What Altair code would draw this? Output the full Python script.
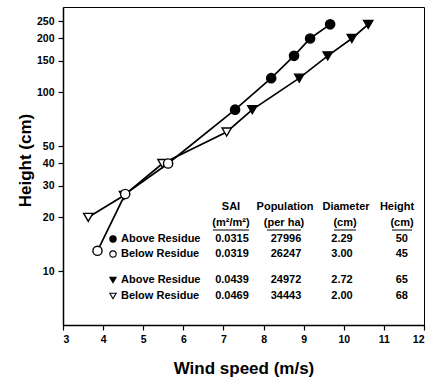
import altair as alt
import pandas as pd

# ---- data ----
circ_above_wind = [9.66, 9.16, 8.76, 8.19, 7.29]
circ_above_height = [240, 200, 160, 120, 80]
circ_below_wind = [5.62, 4.55, 3.86]
circ_below_height = [40, 27, 13]

tri_above_wind = [10.61, 10.20, 9.60, 8.89, 7.72]
tri_above_height = [240, 200, 160, 120, 80]
tri_below_wind = [7.08, 5.48, 4.52, 3.63]
tri_below_height = [60, 40, 26.5, 20]

x_ticks = [3, 4, 5, 6, 7, 8, 9, 10, 11, 12]
y_ticks = [10, 20, 30, 40, 50, 100, 150, 200, 250]

# legend table contents
tbl_names = ["Above Residue", "Below Residue", "Above Residue", "Below Residue"]
tbl_profile = ["circle", "circle", "triangle", "triangle"]
tbl_group = ["Above", "Below", "Above", "Below"]
tbl_sai = ["0.0315", "0.0319", "0.0439", "0.0469"]
tbl_pop = ["27996", "26247", "24972", "34443"]
tbl_diam = ["2.29", "3.00", "2.72", "2.00"]
tbl_height = ["50", "45", "65", "68"]
hdr_titles = ["SAI", "Population", "Diameter", "Height"]
hdr_units = ["(m\u00b2/m\u00b2)", "(per ha)", "(cm)", "(cm)"]

FONT = "Liberation Sans"

rows = []
for w, h in zip(tri_above_wind, tri_above_height):
    rows.append(dict(wind=w, height=h, profile="triangle", group="Above"))
for w, h in zip(tri_below_wind, tri_below_height):
    rows.append(dict(wind=w, height=h, profile="triangle", group="Below"))
for w, h in zip(circ_above_wind, circ_above_height):
    rows.append(dict(wind=w, height=h, profile="circle", group="Above"))
for w, h in zip(circ_below_wind, circ_below_height):
    rows.append(dict(wind=w, height=h, profile="circle", group="Below"))
df = pd.DataFrame(rows)

xs = alt.Scale(domain=[3, 12], nice=False, zero=False)
ys = alt.Scale(type="log", domain=[5, 300], nice=False)
shape_scale = alt.Scale(domain=["circle", "triangle"], range=["circle", "triangle-down"])
fill_scale = alt.Scale(domain=["Above", "Below"], range=["black", "white"])

x_enc = alt.X("wind:Q", scale=xs,
              axis=alt.Axis(title="Wind speed (m/s)", values=x_ticks, format="d",
                            titleY=43, titleBaseline="middle"))
y_enc = alt.Y("height:Q", scale=ys,
              axis=alt.Axis(title="Height (cm)", values=y_ticks, format="d",
                            titleX=-38, titleY=153, titleBaseline="middle",
                            titleAngle=-90, titleAlign="center"))

lines = alt.Chart(df).mark_line(color="black", strokeWidth=1.7).encode(
    x=x_enc, y=y_enc, detail="profile:N", order="height:Q")

points = alt.Chart(df).mark_point(filled=True, stroke="black", strokeWidth=1.4, size=85, opacity=1).encode(
    x="wind:Q", y="height:Q",
    shape=alt.Shape("profile:N", scale=shape_scale, legend=None),
    fill=alt.Fill("group:N", scale=fill_scale, legend=None))

# ---- legend table layout (pixel positions inside plot area) ----
row_y = [232, 247, 273, 289]
hdr_y = 200
unit_y = 216
sym_x = 50
name_x = 58
hdr_x = [168, 222, 283, 334]
unit_x = [168, 221, 282, 339]
val_x = [169, 223, 279, 345]
ul_half = [18, 17, 11, 10]

sym_df = pd.DataFrame(dict(px=[sym_x] * 4, py=row_y, profile=tbl_profile, group=tbl_group))
legend_syms = alt.Chart(sym_df).mark_point(filled=True, stroke="black", strokeWidth=1.1, size=40, opacity=1).encode(
    x=alt.X("px:Q", scale=None), y=alt.Y("py:Q", scale=None),
    shape=alt.Shape("profile:N", scale=shape_scale, legend=None),
    fill=alt.Fill("group:N", scale=fill_scale, legend=None))

txt = []
for i in range(4):
    txt.append(dict(px=name_x, py=row_y[i], t=tbl_names[i], al="left"))
    txt.append(dict(px=val_x[0], py=row_y[i], t=tbl_sai[i], al="center"))
    txt.append(dict(px=val_x[1], py=row_y[i], t=tbl_pop[i], al="center"))
    txt.append(dict(px=val_x[2], py=row_y[i], t=tbl_diam[i], al="center"))
    txt.append(dict(px=val_x[3], py=row_y[i], t=tbl_height[i], al="right"))
for j in range(4):
    txt.append(dict(px=hdr_x[j], py=hdr_y, t=hdr_titles[j], al="center"))
    txt.append(dict(px=unit_x[j], py=unit_y, t=hdr_units[j], al="center"))
txt_df = pd.DataFrame(txt)


def text_layer(align):
    return alt.Chart(txt_df[txt_df.al == align]).mark_text(
        font=FONT, fontWeight="bold", fontSize=11, align=align, baseline="middle", color="black"
    ).encode(x=alt.X("px:Q", scale=None), y=alt.Y("py:Q", scale=None), text="t:N")


ul_df = pd.DataFrame(dict(
    x1=[unit_x[j] - ul_half[j] for j in range(4)],
    x2=[unit_x[j] + ul_half[j] for j in range(4)],
    yy=[unit_y + 7] * 4))
underlines = alt.Chart(ul_df).mark_rule(color="black", strokeWidth=1).encode(
    x=alt.X("x1:Q", scale=None), x2="x2:Q", y=alt.Y("yy:Q", scale=None))

chart = alt.layer(
    lines, points, legend_syms, text_layer("left"), text_layer("center"), text_layer("right"), underlines
).properties(
    width=361, height=318,
    padding={"left": 63, "top": 7, "right": 10, "bottom": 55},
    autosize=alt.AutoSizeParams(type="none"),
    background="white",
).configure_view(
    stroke="black", strokeWidth=1
).configure_axis(
    grid=False,
    labelFont=FONT, labelFontWeight="bold", labelFontSize=10.5, labelColor="black",
    titleFont=FONT, titleFontWeight="bold", titleFontSize=17, titleColor="black",
    domainColor="black", domainWidth=1.5, tickColor="black", tickWidth=1.2, tickSize=5,
    labelPadding=4,
)

chart.save("out.html", embed_options={"renderer": "svg", "actions": False})
